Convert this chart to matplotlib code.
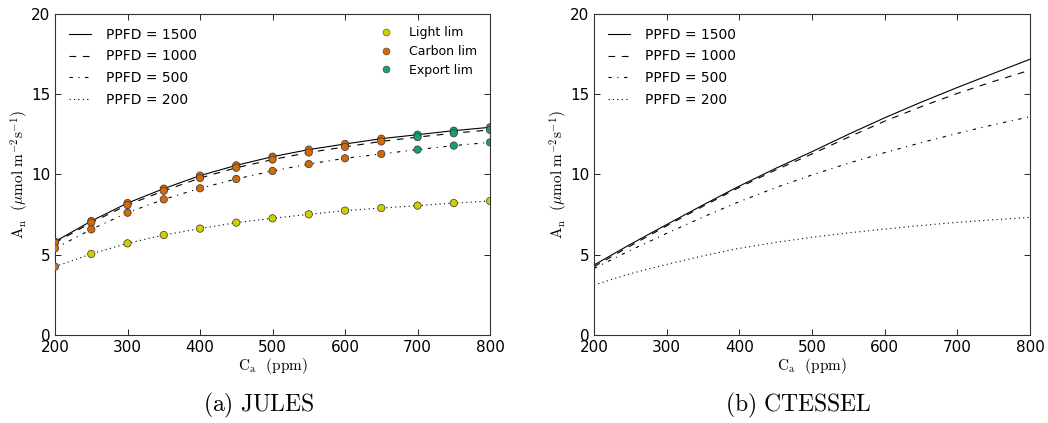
import numpy as np
from matplotlib import pyplot as plt
from matplotlib.lines import Line2D

plt.rcParams['mathtext.fontset'] = 'cm'
plt.rcParams['font.family'] = 'DejaVu Sans'
plt.rcParams['xtick.direction'] = 'in'
plt.rcParams['ytick.direction'] = 'in'
plt.rcParams['xtick.top'] = True
plt.rcParams['ytick.right'] = True

# CO2 (ppm)
ca = [200, 250, 300, 350, 400, 450, 500, 550, 600, 650, 700, 750, 800]
ppfd = [1500, 1000, 500, 200]

# JULES net assimilation
jules_1500 = [5.82, 7.10, 8.22, 9.12, 9.93, 10.57, 11.11, 11.55, 11.90, 12.23, 12.48, 12.73, 12.94]
jules_1000 = [5.75, 7.00, 8.10, 8.98, 9.78, 10.42, 10.93, 11.37, 11.72, 12.06, 12.33, 12.57, 12.78]
jules_500 = [5.40, 6.58, 7.62, 8.45, 9.14, 9.72, 10.22, 10.65, 11.01, 11.28, 11.55, 11.80, 12.00]
jules_200 = [4.26, 5.05, 5.71, 6.23, 6.63, 7.00, 7.27, 7.52, 7.75, 7.91, 8.06, 8.22, 8.35]

# limiting rate at each point: L = light, C = carbon (Rubisco), E = export
lim_1500 = ['C'] * 10 + ['E'] * 3
lim_1000 = ['C'] * 10 + ['E'] * 3
lim_500 = ['C'] * 10 + ['E'] * 3
lim_200 = ['C'] + ['L'] * 12

# CTESSEL net assimilation
ctessel_1500 = [4.36, 5.65, 6.88, 8.10, 9.28, 10.38, 11.42, 12.50, 13.53, 14.50, 15.42, 16.30, 17.18]
ctessel_1000 = [4.26, 5.55, 6.80, 8.02, 9.20, 10.28, 11.28, 12.32, 13.32, 14.22, 15.05, 15.80, 16.50]
ctessel_500 = [4.15, 5.28, 6.33, 7.35, 8.31, 9.18, 9.97, 10.70, 11.36, 11.98, 12.56, 13.10, 13.60]
ctessel_200 = [3.12, 3.82, 4.40, 4.93, 5.40, 5.77, 6.09, 6.36, 6.60, 6.82, 7.02, 7.18, 7.33]

lim_names = {'L': 'Light lim', 'C': 'Carbon lim', 'E': 'Export lim'}
lim_cols = {'L': '#cfcf00', 'C': '#d2690a', 'E': '#1b9e77'}

styles = [dict(linestyle='-'),
          dict(linestyle='--', dashes=(6, 6)),
          dict(linestyle='-.', dashes=(3, 5, 1, 5)),
          dict(linestyle=':', dashes=(1, 3))]

fig = plt.figure(figsize=(10.48, 4.23), dpi=100)
ax1 = fig.add_axes([0.0525, 0.208, 0.4151, 0.759])
ax2 = fig.add_axes([0.5668, 0.208, 0.416, 0.759])

jules = [jules_1500, jules_1000, jules_500, jules_200]
lims = [lim_1500, lim_1000, lim_500, lim_200]
ctessel = [ctessel_1500, ctessel_1000, ctessel_500, ctessel_200]

for ax, runs in [(ax1, jules), (ax2, ctessel)]:
    for p, an, st in zip(ppfd, runs, styles):
        ax.plot(ca, an, color='k', lw=0.8, label='PPFD = %d' % p, **st)

for an, lim in zip(jules, lims):
    cols = [lim_cols[l] for l in lim]
    ax1.scatter(ca, an, c=cols, s=28, edgecolors='#333333', linewidths=0.5, zorder=3)

for ax in [ax1, ax2]:
    ax.set_xlim(200, 800)
    ax.set_ylim(0, 20)
    ax.set_xticks(range(200, 801, 100))
    ax.set_yticks(range(0, 21, 5))
    ax.tick_params(labelsize=11, length=4, width=0.6)
    for s in ax.spines.values():
        s.set_linewidth(0.8)
        s.set_color('#333333')
    ax.set_xlabel(r'$\mathrm{C_a}$  $\mathrm{(ppm)}$', fontsize=11, labelpad=1)
    ax.set_ylabel(r'$\mathrm{A_n}$  $(\mu\mathrm{mol\ m^{-2}s^{-1}})$', fontsize=11, labelpad=0)

leg1 = ax1.legend(loc='upper left', frameon=False, fontsize=10, handlelength=1.6,
                  handletextpad=1.1, labelspacing=0.55, borderaxespad=0.6)
ax1.add_artist(leg1)
pts = [Line2D([], [], ls='none', marker='o', ms=5, mfc=lim_cols[k], mec='#444444',
              mew=0.4, label=lim_names[k]) for k in ['L', 'C', 'E']]
ax1.legend(handles=pts, loc='upper right', frameon=False, fontsize=9,
           handletextpad=0.9, labelspacing=0.45, borderaxespad=0.6)

ax2.legend(loc='upper left', frameon=False, fontsize=10, handlelength=1.6,
           handletextpad=1.1, labelspacing=0.55, borderaxespad=0.6)

fig.text(0.247, 0.041, r'$\mathrm{(a)\ JULES}$', fontsize=17, ha='center', va='center')
fig.text(0.762, 0.041, r'$\mathrm{(b)\ CTESSEL}$', fontsize=17, ha='center', va='center')

fig.savefig('out.png', dpi=100)
